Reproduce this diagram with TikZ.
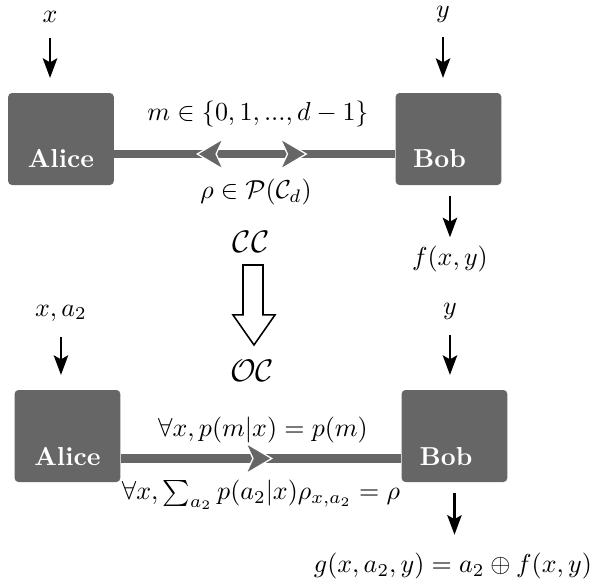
\documentclass[tikz,border=0pt]{standalone}
\usepackage{amsmath, amssymb}
\usepackage{tikz}
\usetikzlibrary{positioning, arrows.meta, calc, decorations.markings}
\definecolor{boxgray}{HTML}{666666}

\begin{document}
\begin{tikzpicture}[
  party/.style={fill=boxgray, rounded corners=1.5pt, minimum width=1.43cm, minimum height=1.245cm},
  who/.style={text=white, font=\bfseries, anchor=base},
  link/.style={draw=boxgray, line width=3.3pt, postaction={decorate}},
  inarr/.style={-{Stealth[length=7.5pt, width=5.5pt, inset=1.5pt]}, line width=1.1pt, shorten <=2.5pt, shorten >=5.6pt},
  outarr/.style={-{Stealth[length=7.5pt, width=5.5pt, inset=1.5pt]}, line width=1.1pt, shorten <=4pt},
  >={Stealth[length=11pt, width=13pt, inset=3pt, fill=boxgray, color=white, line width=0.5pt]}
]
\useasboundingbox (0,0) rectangle (8.214,7.943);
% classical communication
\node[party, label={[who, yshift=0.244cm]south:Alice}] (a1) at (0.825, 6.062) {};
\node[party, label={[who, yshift=0.244cm, xshift=-0.122cm]south:Bob}] (b1) at (6.069, 6.062) {};
\node (x1) at (0.677, 7.713) {$x$};
\node[inner sep=1.5pt] (y1) at (5.995, 7.750) {$y$};
\node (f1) at (6.089, 4.432) {$f(x,y)$};
\node (m1) at (3.491, 6.401) {$m \in \{0,1,...,d-1\}$};
\node (r1) at (3.464, 5.345) {$\rho \in \mathcal{P}(\mathcal{C}_d)$};
\draw[inarr] (x1) -- (x1 |- a1.north);
\draw[inarr, shorten <=4pt] (y1) -- (y1 |- b1.north);
\draw[outarr] (f1 |- b1.south) -- (f1);
\draw[link, decoration={markings, mark=at position 0.291 with {\arrowreversed{>}}, mark=at position 0.688 with {\arrow{>}}}]
  ($(a1.east)+(0,-0.203)$) -- ($(b1.west)+(0,-0.203)$);
% CC => OC
\node[font=\large] (cc) at (3.397, 4.669) {$\mathcal{CC}$};
\node[font=\large] (oc) at (3.410, 2.923) {$\mathcal{OC}$};
\draw[line width=0.6pt, fill=white] (3.288,4.357) -- (3.559,4.357) -- (3.559,3.681) -- (3.721,3.681)
  -- (3.437,3.275) -- (3.153,3.681) -- (3.288,3.681) -- cycle;
% oblivious communication
\node[party, label={[who, yshift=0.23cm]south:Alice}] (a2) at (0.913, 2.043) {};
\node[party, label={[who, yshift=0.23cm, xshift=-0.115cm]south:Bob}] (b2) at (6.150, 2.043) {};
\node (x2) at (0.825, 3.708) {$x, a_2$};
\node (y2) at (6.089, 3.735) {$y$};
\node (g1) at (6.130, 0.284) {$g(x,a_2,y) = a_2 \oplus f(x,y)$};
\node (p2) at (3.559, 2.125) {$\forall x, p(m|x) = p(m)$};
\node (s2) at (3.532, 1.245) {$\forall x, \sum_{a_2} p(a_2|x)\rho_{x,a_2} = \rho$};
\draw[inarr] (x2) -- (x2 |- a2.north);
\draw[inarr] (y2) -- (y2 |- b2.north);
\draw[outarr, shorten >=3.5pt] (b2.south) -- (b2.south |- g1.north);
\draw[link, decoration={markings, mark=at position 0.543 with {\arrow{>}}}]
  ($(a2.east)+(0,-0.304)$) -- ($(b2.west)+(0,-0.304)$);
\end{tikzpicture}
\end{document}
